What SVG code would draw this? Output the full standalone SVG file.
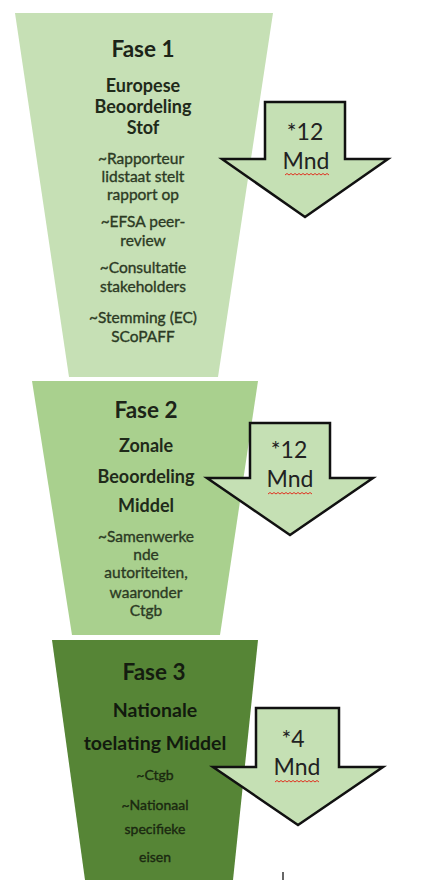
<svg xmlns="http://www.w3.org/2000/svg" width="435" height="880" viewBox="0 0 435 880">
<style>
.h{font-family:Lato,"Liberation Sans",sans-serif;font-weight:bold;font-size:22.5px;fill:#1c2418;text-anchor:middle}
.t{font-family:Lato,"Liberation Sans",sans-serif;font-weight:bold;font-size:18px;fill:#1f2a1a;text-anchor:middle}
.s{font-family:Lato,"Liberation Sans",sans-serif;font-size:15.5px;fill:#2c3a24;stroke:#2c3a24;stroke-width:0.35;text-anchor:middle}
.a{fill:#c5e0b4;stroke:#111;stroke-width:2.5;stroke-linejoin:miter}
.m{font-family:Lato,"Liberation Sans",sans-serif;font-size:23px;fill:#222;text-anchor:middle}
.w{fill:none;stroke:#e03020;stroke-width:1}
</style>
<rect width="435" height="880" fill="#fff"/>
<g id="fase1">
<polygon points="15,13 273,13 218,377 69,377" fill="#c6e0b5"/>
<text class="h" x="143" y="57">Fase 1</text>
<text class="t" x="143" y="92">Europese</text>
<text class="t" x="143" y="113">Beoordeling</text>
<text class="t" x="143" y="134">Stof</text>
<text class="s" x="141" y="164">~Rapporteur</text>
<text class="s" x="143" y="182">lidstaat stelt</text>
<text class="s" x="143" y="200">rapport op</text>
<text class="s" x="143" y="227">~EFSA peer-</text>
<text class="s" x="143" y="246">review</text>
<text class="s" x="143" y="273">~Consultatie</text>
<text class="s" x="143" y="292">stakeholders</text>
<text class="s" x="143" y="323">~Stemming (EC)</text>
<text class="s" x="143" y="342">SCoPAFF</text>
</g>
<g id="fase2">
<polygon points="32,381 258,381 220,635 72,635" fill="#a9d08e"/>
<text class="h" x="146" y="418">Fase 2</text>
<text class="t" x="146" y="452">Zonale</text>
<text class="t" x="146" y="483">Beoordeling</text>
<text class="t" x="146" y="512">Middel</text>
<text class="s" x="146" y="542">~Samenwerke</text>
<text class="s" x="146" y="560">nde</text>
<text class="s" x="146" y="578">autoriteiten,</text>
<text class="s" x="146" y="598">waaronder</text>
<text class="s" x="146" y="616">Ctgb</text>
</g>
<g id="fase3">
<polygon points="52,640 258,640 233,880 85,880" fill="#568536"/>
<text class="h" x="154" y="680" style="fill:#141c10">Fase 3</text>
<text class="t" x="155" y="717" style="fill:#121a0e;font-size:19.5px">Nationale</text>
<text class="t" x="155" y="750" style="fill:#121a0e;font-size:19.5px">toelating Middel</text>
<text class="s" x="155" y="780" style="fill:#1a2810;stroke:#1a2810;font-size:14px">~Ctgb</text>
<text class="s" x="155" y="810" style="fill:#1a2810;stroke:#1a2810;font-size:14px">~Nationaal</text>
<text class="s" x="155" y="834" style="fill:#1a2810;stroke:#1a2810;font-size:14px">specifieke</text>
<text class="s" x="155" y="862" style="fill:#1a2810;stroke:#1a2810;font-size:14px">eisen</text>
</g>
<g id="arrow1">
<polygon class="a" points="265,102 345,102 345,159 388,159 305,217 222,159 265,159"/>
<text class="m" x="305" y="140">*12</text>
<text class="m" x="306" y="169">Mnd</text>
<path class="w" d="M285,175 l2,-1.5 l2,1.5 l2,-1.5 l2,1.5 l2,-1.5 l2,1.5 l2,-1.5 l2,1.5 l2,-1.5 l2,1.5 l2,-1.5 l2,1.5 l2,-1.5 l2,1.5 l2,-1.5 l2,1.5 l2,-1.5 l2,1.5 l2,-1.5 l2,1.5 l2,-1.5 l2,1.5"/>
</g>
<g id="arrow2">
<polygon class="a" points="250,423 330,423 330,478 373,478 290,535 207,478 250,478"/>
<text class="m" x="289" y="458">*12</text>
<text class="m" x="290" y="487">Mnd</text>
<path class="w" d="M268,494 l2,-1.5 l2,1.5 l2,-1.5 l2,1.5 l2,-1.5 l2,1.5 l2,-1.5 l2,1.5 l2,-1.5 l2,1.5 l2,-1.5 l2,1.5 l2,-1.5 l2,1.5 l2,-1.5 l2,1.5 l2,-1.5 l2,1.5 l2,-1.5 l2,1.5 l2,-1.5 l2,1.5"/>
</g>
<g id="arrow3">
<polygon class="a" points="256,708 339,708 339,767 383,767 298,825 213,767 256,767"/>
<text class="m" x="293" y="747">*4</text>
<text class="m" x="297" y="775">Mnd</text>
<path class="w" d="M275,782 l2,-1.5 l2,1.5 l2,-1.5 l2,1.5 l2,-1.5 l2,1.5 l2,-1.5 l2,1.5 l2,-1.5 l2,1.5 l2,-1.5 l2,1.5 l2,-1.5 l2,1.5 l2,-1.5 l2,1.5 l2,-1.5 l2,1.5 l2,-1.5 l2,1.5 l2,-1.5 l2,1.5"/>
</g>
<g id="connectors">
<line x1="283" y1="872" x2="283" y2="880" stroke="#333" stroke-width="1.5"/>
</g>
</svg>
